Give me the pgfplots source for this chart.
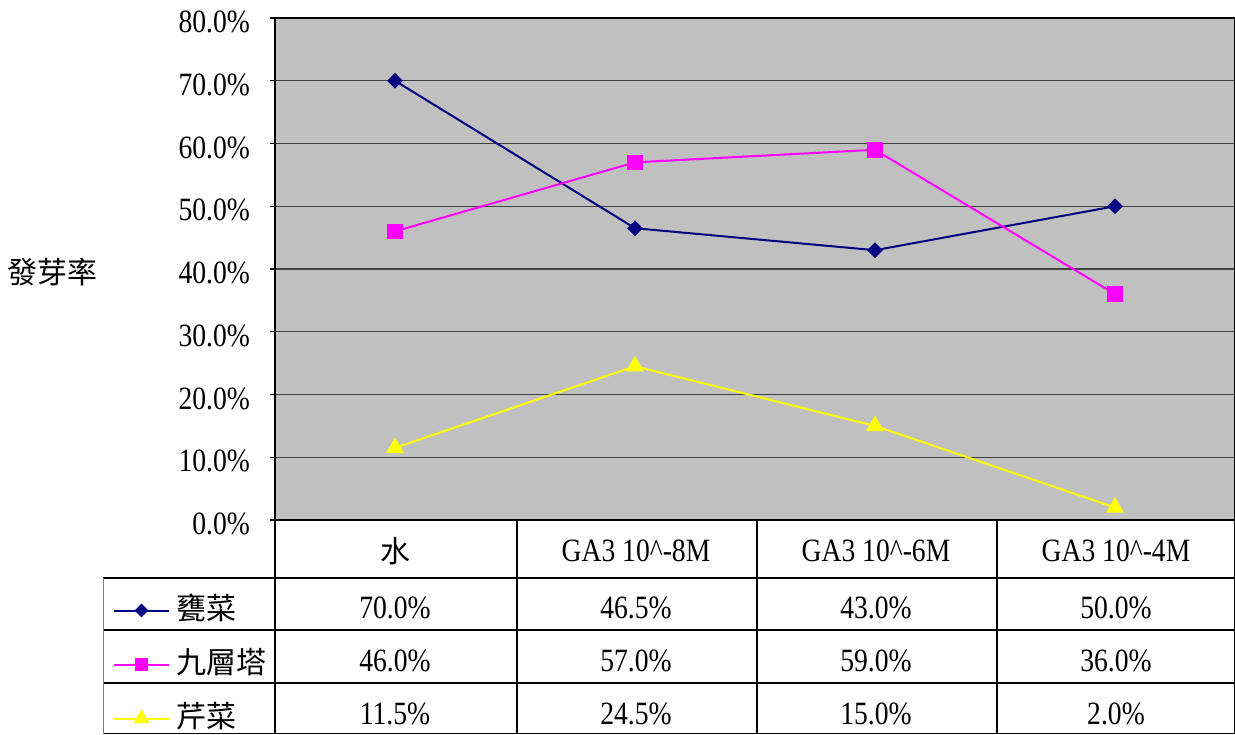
\documentclass[border=0pt]{standalone}
\usepackage{pgfplots}
\pgfplotsset{compat=1.18}
\usepackage{pgfplotstable}
\usepackage{fontspec}
\setmainfont{Liberation Serif}[FakeStretch=0.85]
\newfontfamily\cjk{Noto Sans CJK TC}
\definecolor{navyline}{HTML}{000080}
\definecolor{pinkline}{HTML}{FF00FF}
\definecolor{yellowline}{HTML}{FFFF00}
\definecolor{plotgray}{HTML}{C0C0C0}
\definecolor{gridgray}{HTML}{404040}

% germination rate (%) per treatment
\pgfplotstableread{
x wengcai jiucengta qincai
0 70.0 46.0 11.5
1 46.5 57.0 24.5
2 43.0 59.0 15.0
3 50.0 36.0 2.0
}\germination

\newcommand{\numfont}{\fontsize{16.25}{18}\selectfont}
\newcommand{\cjkfont}{\cjk\fontsize{15}{17}\selectfont}

% legend key: short line with the marker in its middle
\pgfplotsset{
  keyimg/.style={legend image code/.code={%
    \draw[mark repeat=2,mark phase=2,##1,mark size=#1]
      plot coordinates {(0pt,0pt) (13.75pt,0pt) (27.5pt,0pt)};}},
}

\begin{document}
\begin{tikzpicture}
\begin{axis}[
  at={(0,0)}, anchor=south west,
  scale only axis, width=480pt, height=251pt,
  xmin=-0.5, xmax=3.5, ymin=0, ymax=80,
  xtick=\empty,
  ytick={0,10,...,80},
  yticklabel={\pgfmathprintnumber[fixed,fixed zerofill,precision=1]{\tick}\%},
  /pgf/number format/assume math mode=true,
  yticklabel style={font=\numfont, anchor=east, yshift=-2pt, xshift=-6.5pt},
  ymajorgrids,
  grid style={draw=gridgray, line width=0.6pt},
  axis background/.style={fill=plotgray},
  axis line style={draw=black, line width=0.8pt},
  ytick pos=left, tick align=outside, major tick length=2.5pt,
  tick style={draw=black, line width=0.6pt},
  clip=false,
  legend style={
    at={(-0.16875,-0.1494)}, anchor=north west,
    draw=none, fill=none, inner sep=0pt, outer sep=0pt,
    row sep=11.5pt, column sep=3.5pt,
    font=\cjkfont,
    nodes={inner sep=0pt, text height=12pt, text depth=3.5pt},
  },
  legend cell align=left,
]
\addplot[navyline, line width=1pt, mark=square*, mark size=2.3pt,
  mark options={rotate=45, fill=navyline}, keyimg=1.9pt]
  table[x=x, y=wengcai] {\germination};
\addlegendentry{甕菜}
\addplot[pinkline, line width=1pt, mark=square*, mark size=3.4pt,
  mark options={fill=pinkline}, keyimg=2.9pt]
  table[x=x, y=jiucengta] {\germination};
\addlegendentry{九層塔}
\addplot[yellowline, line width=1pt, mark=triangle*, mark size=4.2pt,
  mark options={fill=yellowline}, keyimg=3.6pt]
  table[x=x, y=qincai] {\germination};
\addlegendentry{芹菜}
\end{axis}

% data table under the plot, laid out on a 0.5pt grid
\begin{scope}[x=0.5pt, y=-0.5pt, shift={(-137.5pt,260pt)}]
  \draw[black, line width=0.6pt] (103,578) -- (1235,578);
  \draw[black, line width=0.6pt] (103,630) -- (1235,630);
  \draw[black, line width=0.6pt] (103,683) -- (1235,683);
  \draw[black, line width=0.6pt] (103,733.5) -- (1235,733.5);
  \draw[gray, line width=0.8pt] (103.5,578) -- (103.5,734);
  \foreach \xx in {275,517,757,997,1234.5}
    \draw[black, line width=0.6pt] (\xx,520) -- (\xx,734);
  % column heads
  \node[font=\cjkfont] at (395,551) {水};
  \node[font=\numfont] at (636,551) {GA3 10\textasciicircum-8M};
  \node[font=\numfont] at (876,551) {GA3 10\textasciicircum-6M};
  \node[font=\numfont] at (1116,551) {GA3 10\textasciicircum-4M};
  % values
  \foreach \xx/\a/\b/\c in {395/70.0/46.0/11.5, 636/46.5/57.0/24.5, 876/43.0/59.0/15.0, 1116/50.0/36.0/2.0} {
    \node[font=\numfont] at (\xx,608) {\a\%};
    \node[font=\numfont] at (\xx,661) {\b\%};
    \node[font=\numfont] at (\xx,714) {\c\%};
  }
  % axis title
  \node[font=\cjkfont] at (53,272) {發芽率};
\end{scope}

\pgfresetboundingbox
\path[use as bounding box] (-137.5pt,-107pt) rectangle (480pt,260pt);
\end{tikzpicture}
\end{document}
